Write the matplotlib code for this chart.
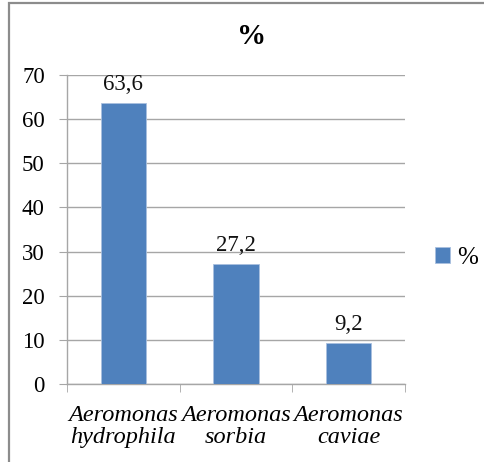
import matplotlib
matplotlib.use("Agg")
import matplotlib.pyplot as plt
from matplotlib.patches import Rectangle

categories = ["Aeromonas\nhydrophila", "Aeromonas\nsorbia", "Aeromonas\ncaviae"]
values = [63.6, 27.2, 9.2]
y_ticks = [0, 10, 20, 30, 40, 50, 60, 70]
series_name = "%"

W, H = 485, 462
plt.rcParams["font.family"] = ["Liberation Serif", "DejaVu Serif"]

fig = plt.figure(figsize=(W / 100, H / 100), dpi=100)
ax = fig.add_axes([67 / W, 1 - 384 / H, (405 - 67) / W, (384 - 75) / H])

bar_color = "#4F81BD"
grid_color = "#A6A6A6"
x = list(range(len(categories)))
bars = ax.bar(x, values, width=0.4, color=bar_color, edgecolor="#A9C0DF",
              linewidth=0.6, zorder=3, label=series_name)

for xi, v in zip(x, values):
    ax.annotate(f"{v:.1f}".replace(".", ","), (xi, v), xytext=(0, 6),
                textcoords="offset points", ha="center", va="bottom",
                fontsize=16.5, color="#111111")

ax.set_xlim(-0.5, len(categories) - 0.5)
ax.set_ylim(0, 70)
ax.set_yticks(y_ticks)
ax.set_yticklabels([str(t) for t in y_ticks])
ax.yaxis.grid(True, color=grid_color, linewidth=1.0, zorder=0)
ax.set_axisbelow(True)

ax.set_xticks(x)
ax.set_xticklabels(categories, fontstyle="italic", fontsize=17.5, linespacing=1.05)
ax.set_xticks([i - 0.5 for i in range(len(categories) + 1)], minor=True)
ax.tick_params(axis="x", which="major", length=0, pad=15)
ax.tick_params(axis="x", which="minor", length=6, color=grid_color, direction="out")
ax.tick_params(axis="y", length=6, color=grid_color, labelsize=16.5, pad=10)

for side in ("top", "right"):
    ax.spines[side].set_visible(False)
for side in ("left", "bottom"):
    ax.spines[side].set_color(grid_color)
    ax.spines[side].set_linewidth(1.0)

fig.text(252 / W, 1 - 37 / H, "%", ha="center", va="center",
         fontsize=21, fontweight="bold")

fig.legend(handles=[bars], labels=[series_name], loc="center left",
           bbox_to_anchor=(435 / W, 1 - 258 / H), frameon=False,
           fontsize=18, handlelength=0.6, handleheight=0.6,
           handletextpad=0.3, borderpad=0, borderaxespad=0)

# outer chart frame
fig.add_artist(Rectangle((9 / W, -0.1), (490 - 9) / W, 0.1 + (H - 3) / H,
                         transform=fig.transFigure, fill=False,
                         edgecolor="#8C8C8C", linewidth=1.6))

fig.savefig("out.png", dpi=100)
